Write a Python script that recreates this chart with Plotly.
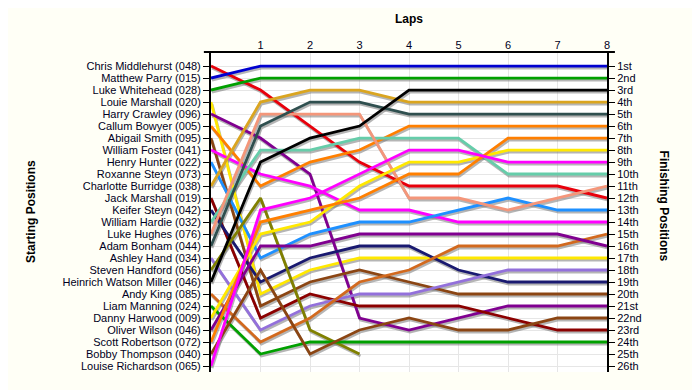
import plotly.graph_objects as go

drivers = [
    "Chris Middlehurst (048)", "Matthew Parry (015)", "Luke Whitehead (028)",
    "Louie Marshall (020)", "Harry Crawley (096)", "Callum Bowyer (005)",
    "Abigail Smith (095)", "William Foster (041)", "Henry Hunter (022)",
    "Roxanne Steyn (073)", "Charlotte Burridge (038)", "Jack Marshall (019)",
    "Keifer Steyn (042)", "William Hardie (032)", "Luke Hughes (076)",
    "Adam Bonham (044)", "Ashley Hand (034)", "Steven Handford (056)",
    "Heinrich Watson Miller (046)", "Andy King (085)", "Liam Manning (024)",
    "Danny Harwood (009)", "Oliver Wilson (046)", "Scott Robertson (072)",
    "Bobby Thompson (040)", "Louise Richardson (065)",
]

colors = [
    "#e8000b", "#0000d0", "#00a000", "#ffe800", "#800090", "#ff7f00",
    "#8b4513", "#ff00ff", "#1e90ff", "#c0c0c0", "#daa520", "#8b0000",
    "#191970", "#66cdaa", "#f4967a", "#2f4f4f", "#9370db", "#808000",
    "#000000", "#d2691e", "#00a000", "#ffe800", "#800090", "#ff7f00",
    "#8b4513", "#ff00ff",
]

laps = [0, 1, 2, 3, 4, 5, 6, 7, 8]
lap0 = list(range(1, 27))
lap1 = [3, 1, 2, 20, 7, 11, 21, 10, 17, None, 4, 22, 19, 8, 5, 6, 23, 12, 9, 24, 25, 15, 16, 14, 18, 13]
lap2 = [6, 1, 2, 18, 10, 9, 19, 11, 15, None, 3, 20, 17, 8, 5, 4, 21, 23, 7, 22, 24, 14, 16, 13, 25, 12]
lap3 = [9, 1, 2, 17, 22, 8, 18, 13, 14, None, 3, 21, 16, 7, 5, 4, 20, 25, 6, 19, 24, 11, 15, 12, 23, 10]
lap4 = [11, 1, 2, 17, 23, 6, 19, 13, 14, None, 4, 21, 16, 7, 12, 5, 20, None, 3, 18, 24, 9, 15, 10, 22, 8]
lap5 = [11, 1, 2, 17, 22, 6, 20, 14, 13, None, 4, 21, 18, 7, 12, 5, 19, None, 3, 16, 24, 9, 15, 10, 23, 8]
lap6 = [11, 1, 2, 17, 21, 6, 20, 14, 12, None, 4, 22, 19, 10, 13, 5, 18, None, 3, 16, 24, 8, 15, 7, 23, 9]
lap7 = [11, 1, 2, 17, 21, 6, 20, 14, 13, None, 4, 23, 19, 10, 12, 5, 18, None, 3, 16, 24, 8, 15, 7, 22, 9]
lap8 = [12, 1, 2, 17, 21, 6, 20, 14, 13, None, 4, 23, 19, 10, 11, 5, 18, None, 3, 15, 24, 8, 16, 7, 22, 9]

finish_labels = ["1st", "2nd", "3rd"] + [f"{n}th" for n in range(4, 21)] + \
    ["21st", "22nd", "23rd", "24th", "25th", "26th"]

all_laps = [lap0, lap1, lap2, lap3, lap4, lap5, lap6, lap7, lap8]

# page offset of the plot area (browser body margin is 8px)
OFF = 8
PX_LEFT, PX_RIGHT, PX_TOP, PX_BOTTOM = 211, 607, 52, 372
W, H = 700, 390
x_range = [0, 8]
y_range = [26.5, -0.17]
px_per_lap = (PX_RIGHT - PX_LEFT) / (x_range[1] - x_range[0])
px_per_pos = (PX_BOTTOM - PX_TOP) / (y_range[0] - y_range[1])
sh_dx, sh_dy = 1.0, 2.0   # shadow offset in pixels
x_range_sh = [x_range[0] - sh_dx / px_per_lap, x_range[1] - sh_dx / px_per_lap]
y_range_sh = [y_range[0] - sh_dy / px_per_pos, y_range[1] - sh_dy / px_per_pos]

fig = go.Figure()
series = []
for i, name in enumerate(drivers):
    xs, ys = [], []
    for k, lp in zip(laps, all_laps):
        if lp[i] is not None:
            xs.append(k)
            ys.append(lp[i])
    if len(xs) >= 2:
        series.append((name, xs, ys, colors[i]))

# anchor traces for the visible axes
fig.add_trace(go.Scatter(x=[None], y=[None], xaxis="x", yaxis="y", showlegend=False))
fig.add_trace(go.Scatter(x=[None], y=[None], xaxis="x", yaxis="y4", showlegend=False))
for name, xs, ys, c in series:
    fig.add_trace(go.Scatter(x=xs, y=ys, mode="lines", line=dict(color="rgba(120,120,120,0.55)", width=2.8),
                             xaxis="x2", yaxis="y2", hoverinfo="skip", showlegend=False))
for name, xs, ys, c in series:
    fig.add_trace(go.Scatter(x=xs, y=ys, mode="lines", name=name, line=dict(color=c, width=2.8),
                             xaxis="x3", yaxis="y3", hoverinfo="skip", showlegend=False))

font = "Liberation Sans, Arial, sans-serif"
hidden = dict(visible=False, showgrid=False, zeroline=False)
fig.update_layout(
    width=W, height=H,
    margin=dict(l=PX_LEFT - OFF, r=W - (PX_RIGHT - OFF), t=PX_TOP - OFF, b=H - (PX_BOTTOM - OFF)),
    paper_bgcolor="#fffff6", plot_bgcolor="#ffffff",
    showlegend=False,
    font=dict(family=font, size=11, color="#000022"),
    xaxis=dict(range=x_range, side="top", tickvals=laps[1:], ticktext=[str(k) for k in laps[1:]],
               showgrid=True, gridcolor="#e6e6e6", gridwidth=1, zeroline=False,
               showline=False, ticks="", tickfont=dict(size=11)),
    yaxis=dict(range=y_range, tickvals=lap0, ticktext=drivers, showgrid=True,
               gridcolor="#e6e6e6", zeroline=False, showline=True, linecolor="black",
               linewidth=2, ticks="outside", ticklen=6, tickcolor="black", tickwidth=1),
    xaxis2=dict(range=x_range_sh, overlaying="x", anchor="y2", **hidden),
    yaxis2=dict(range=y_range_sh, overlaying="y", anchor="x2", **hidden),
    xaxis3=dict(range=x_range, overlaying="x", anchor="y3", **hidden),
    yaxis3=dict(range=y_range, overlaying="y", anchor="x3", **hidden),
    yaxis4=dict(range=y_range, overlaying="y", side="right", anchor="x", tickvals=lap0,
                ticktext=finish_labels, showgrid=False, zeroline=False, showline=True,
                linecolor="black", linewidth=2, ticks="outside", ticklen=6, tickcolor="black"),
    shapes=[dict(type="line", xref="paper", yref="paper", x0=-0.018, x1=1.02, y0=1, y1=1,
                 line=dict(color="black", width=2))],
    annotations=[
        dict(text="<b>Laps</b>", xref="paper", yref="paper", x=0.5, y=1, yshift=33,
             showarrow=False, font=dict(size=12, color="black"), yanchor="middle"),
        dict(text="<b>Starting Positions</b>", xref="paper", yref="paper", x=0, xshift=-189,
             y=0.5, showarrow=False, textangle=-90, font=dict(size=12, color="black")),
        dict(text="<b>Finishing Positions</b>", xref="paper", yref="paper", x=1, xshift=66,
             y=0.52, showarrow=False, textangle=90, font=dict(size=12, color="black")),
    ],
)

fig.write_html("out.html")
